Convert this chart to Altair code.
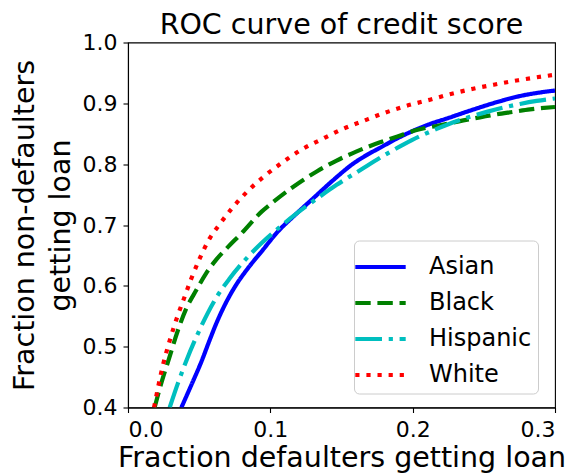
import altair as alt
import pandas as pd

groups = ["Asian", "Black", "Hispanic", "White"]

asian_x = [0.0375, 0.0445, 0.0515, 0.0574, 0.062, 0.0679, 0.075, 0.0843, 0.0937, 0.1056, 0.1162, 0.1302,
           0.1443, 0.1583, 0.170, 0.1771, 0.1888, 0.2005, 0.2122, 0.2239, 0.2403, 0.2637, 0.2754, 0.2871, 0.300]
asian_y = [0.400, 0.437, 0.475, 0.511, 0.538, 0.568, 0.598, 0.629, 0.656, 0.690, 0.714, 0.744,
           0.774, 0.801, 0.818, 0.827, 0.842, 0.855, 0.866, 0.875, 0.888, 0.905, 0.912, 0.917, 0.921]

black_x = [0.0187, 0.0234, 0.0281, 0.0351, 0.041, 0.048, 0.055, 0.062, 0.0703, 0.0796, 0.0939, 0.1021, 0.1162,
           0.1326, 0.1466, 0.1607, 0.1771, 0.1888, 0.2028, 0.2192, 0.2356, 0.2473, 0.259, 0.2707, 0.2824, 0.300]
black_y = [0.400, 0.440, 0.475, 0.527, 0.563, 0.593, 0.621, 0.643, 0.664, 0.686, 0.722, 0.738, 0.763,
           0.788, 0.806, 0.821, 0.836, 0.845, 0.856, 0.864, 0.872, 0.877, 0.882, 0.886, 0.890, 0.894]

hisp_x = [0.0293, 0.0351, 0.041, 0.0492, 0.0562, 0.0632, 0.0714, 0.082, 0.0937, 0.1068, 0.1185, 0.1361, 0.1466,
          0.163, 0.1818, 0.1934, 0.2052, 0.2169, 0.2286, 0.2403, 0.252, 0.2637, 0.2754, 0.2871, 0.300]
hisp_y = [0.400, 0.440, 0.477, 0.522, 0.556, 0.585, 0.612, 0.642, 0.670, 0.697, 0.719, 0.749, 0.766,
          0.790, 0.817, 0.832, 0.846, 0.858, 0.869, 0.878, 0.886, 0.893, 0.899, 0.904, 0.908]

white_x = [0.0183, 0.0246, 0.0293, 0.0346, 0.0393, 0.0445, 0.0504, 0.0574, 0.0637, 0.0729, 0.0834, 0.0951, 0.108,
           0.122, 0.1361, 0.1501, 0.1653, 0.1799, 0.1958, 0.2122, 0.2262, 0.2426, 0.2578, 0.2742, 0.2907, 0.300]
white_y = [0.400, 0.470, 0.510, 0.549, 0.579, 0.612, 0.645, 0.678, 0.699, 0.727, 0.754, 0.779, 0.802,
           0.824, 0.841, 0.857, 0.871, 0.884, 0.896, 0.906, 0.915, 0.924, 0.931, 0.938, 0.944, 0.947]

x_ticks = [0.0, 0.1, 0.2, 0.3]
y_ticks = [0.4, 0.5, 0.6, 0.7, 0.8, 0.9, 1.0]

colors = ["#0000ff", "#008000", "#00bfbf", "#ff0000"]
dashes = [[1, 0], [15.4, 6.7], [26.7, 6.7, 4.2, 6.7], [4.2, 6.9]]

rows = []
for g, xs, ys in zip(groups, [asian_x, black_x, hisp_x, white_x], [asian_y, black_y, hisp_y, white_y]):
    for i, (xv, yv) in enumerate(zip(xs, ys)):
        rows.append({"group": g, "x": xv, "y": yv, "i": i})
df = pd.DataFrame(rows)

legend_cfg = dict(title=None, orient="none", legendX=226, legendY=198,
                  symbolType="M-1.4,0H1.4", symbolSize=1296, symbolStrokeWidth=4.2,
                  labelFontSize=24, labelFont="DejaVu Sans", labelColor="black",
                  rowPadding=3, padding=6, cornerRadius=5, labelOffset=28,
                  strokeColor="#cccccc", fillColor="white")

chart = alt.Chart(df).mark_line(strokeWidth=4.2, clip=True, interpolate="monotone").encode(
    x=alt.X("x:Q", scale=alt.Scale(domain=[0, 0.3], nice=False),
            axis=alt.Axis(values=x_ticks, format=".1f",
                          title="Fraction defaulters getting loan")),
    y=alt.Y("y:Q", scale=alt.Scale(domain=[0.4, 1.0], nice=False, zero=False),
            axis=alt.Axis(values=y_ticks, format=".1f",
                          title=["Fraction non-defaulters", "getting loan"])),
    color=alt.Color("group:N", scale=alt.Scale(domain=groups, range=colors),
                    legend=alt.Legend(**legend_cfg)),
    strokeDash=alt.StrokeDash("group:N", scale=alt.Scale(domain=groups, range=dashes),
                              legend=alt.Legend(**legend_cfg)),
    order="i:Q",
).properties(
    width=427, height=365,
    title=alt.Title("ROC curve of credit score", fontSize=28.5, font="DejaVu Sans",
                    fontWeight="normal", color="black", offset=-8, frame="group"),
    padding={"left": 120, "top": 34.5, "right": 14, "bottom": 66},
    autosize=alt.AutoSizeParams(type="none"),
).configure_view(
    stroke="black", strokeWidth=1.1
).configure_axis(
    grid=False, domainColor="black", tickColor="black", labelColor="black", titleColor="black",
    labelFont="DejaVu Sans", titleFont="DejaVu Sans", labelFontSize=22, titleFontSize=28.5,
    titleFontWeight="normal", tickSize=5, labelPadding=5, titlePadding=5, domainWidth=1.1, tickWidth=1.1,
).configure_axisX(labelPadding=7, titlePadding=3
).configure_axisY(titleLineHeight=36, titlePadding=7, labelPadding=6)

chart.save("out.html", embed_options={"renderer": "svg", "actions": False})
